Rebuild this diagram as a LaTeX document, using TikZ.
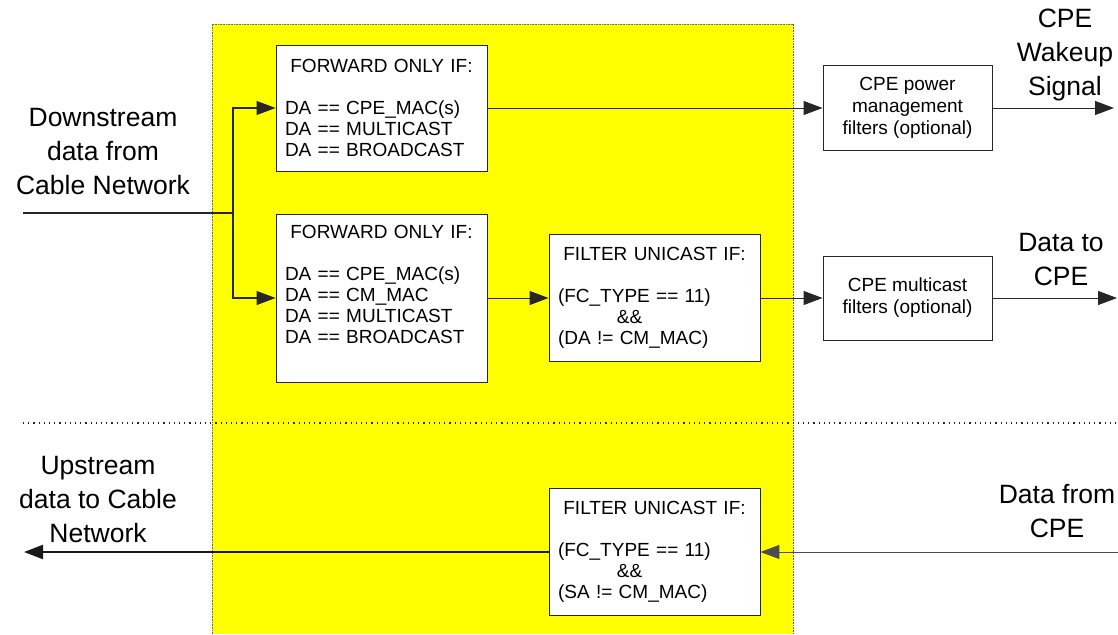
\documentclass[tikz,border=0pt]{standalone}
\usepackage{fontspec}
\setmainfont{Liberation Sans}
\usetikzlibrary{arrows.meta}
\tikzset{>={Triangle[width=14pt,length=19pt]}}
\definecolor{cmyellow}{RGB}{255,255,0}

\begin{document}
\begin{tikzpicture}[x=1pt,y=-1pt,
  filterbox/.style={draw=black!85,line width=0.9pt,fill=white,inner xsep=9pt,
    text width=193pt,align=left,font=\fontsize{19}{21}\selectfont},
  cpebox/.style={draw=black!85,line width=0.9pt,fill=white,minimum width=169pt,
    minimum height=85pt,align=center,font=\fontsize{19}{22}\selectfont},
  biglabel/.style={align=center,font=\fontsize{26.5}{34}\selectfont},
  flow/.style={->,line width=1pt,black!85},
  trunk/.style={line width=1.7pt,black!85}]

  \newcommand\hdr[1]{\makebox[\hsize]{#1}}
  \useasboundingbox (0,0) rectangle (1118,634);

  % cable modem area
  \fill[cmyellow] (212,24) rectangle (793,634);
  \draw[black!60,line width=0.6pt,dash pattern=on 0.8pt off 0.8pt] (212,634) -- (212,24) -- (793,24) -- (793,634);

  % downstream / upstream divider
  \draw[black!85,line width=1.2pt,dash pattern=on 1.2pt off 4pt] (23,423) -- (1118,423);

  % downstream
  \node[filterbox,minimum height=126pt] (fwdcpe) at (381.5,108)
    {\hdr{FORWARD ONLY IF:}\\[21pt] DA == CPE\_MAC(s)\\ DA == MULTICAST\\ DA == BROADCAST};
  \node[filterbox,minimum height=168pt] (fwdcm) at (381.5,298)
    {\hdr{FORWARD ONLY IF:}\\[21pt] DA == CPE\_MAC(s)\\ DA == CM\_MAC\\ DA == MULTICAST\\ DA == BROADCAST\\ \strut};
  \node[filterbox,minimum height=127pt] (dsuni) at (654.5,298)
    {\hdr{FILTER UNICAST IF:}\\[21pt] (FC\_TYPE == 11)\\ \hspace*{3.1em}\&\&\\ (DA != CM\_MAC)};
  \node[cpebox] (pwr) at (907.5,108) {CPE power\\ management\\ filters (optional)};
  \node[cpebox,minimum height=84pt] (mcast) at (907.5,298) {CPE multicast\\ filters (optional)};

  % upstream
  \node[filterbox,minimum height=127pt] (usuni) at (654.5,552)
    {\hdr{FILTER UNICAST IF:}\\[21pt] (FC\_TYPE == 11)\\ \hspace*{3.1em}\&\&\\ (SA != CM\_MAC)};

  \coordinate (dsin) at (23,213);
  \coordinate (split) at (233,213);
  \coordinate (wake) at (1114,108);
  \coordinate (cpeout) at (1117,298);
  \coordinate (cpein) at (1118,552);
  \coordinate (usout) at (24,552);

  \node[biglabel] (dslbl) at (103,152) {Downstream\\ data from\\ Cable Network};
  \node[biglabel] (wakelbl) at (1065,55) {CPE\\ Wakeup\\ Signal};
  \node[biglabel] (cpelbl) at (1061,260) {Data to\\ CPE};
  \node[biglabel] (uslbl) at (98,500) {Upstream\\ data to Cable\\ Network};
  \node[biglabel] (cpeinlbl) at (1057,511) {Data from\\ CPE};

  \draw[trunk] (dsin) -- (split);
  \draw[trunk] (split) |- ([xshift=-18pt]fwdcpe.west);
  \draw[trunk] (split) |- ([xshift=-18pt]fwdcm.west);
  \draw[flow] ([xshift=-19pt]fwdcpe.west) -- (fwdcpe.west);
  \draw[flow] ([xshift=-19pt]fwdcm.west) -- (fwdcm.west);
  \draw[flow] (fwdcpe) -- (pwr);
  \draw[flow] (pwr) -- (wake);
  \draw[flow] (fwdcm) -- (dsuni);
  \draw[flow] (dsuni) -- (mcast);
  \draw[flow] (mcast) -- (cpeout);
  \draw[flow,black!70] (cpein) -- (usuni);
  \draw[->,line width=2.2pt,black!90] (usuni) -- (usout);

\end{tikzpicture}
\end{document}
